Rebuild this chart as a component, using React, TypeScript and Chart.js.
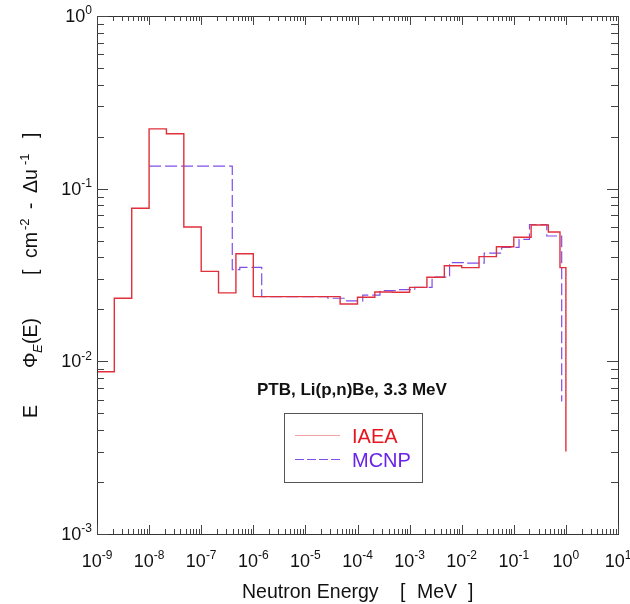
import React, { useEffect, useRef } from 'react';
import { Chart, registerables } from 'chart.js';

Chart.register(...registerables);

// ---- data (histogram left bin edges in MeV, and E*Phi values) ----
const iaeaEnergy = [
  1e-9, 2.15e-9, 4.64e-9, 1e-8, 2.15e-8, 4.64e-8, 1e-7, 2.15e-7, 4.64e-7, 1e-6,
  2.15e-6, 4.64e-6, 1e-5, 2.15e-5, 4.64e-5, 1e-4, 2.15e-4, 4.64e-4, 1e-3, 2.15e-3,
  4.64e-3, 1e-2, 2.15e-2, 4.64e-2, 0.1, 0.215, 0.46, 0.77, 1.0,
];
const iaeaFlux = [
  0.0087, 0.0232, 0.077, 0.222, 0.208, 0.06, 0.0332, 0.0249, 0.042, 0.0237,
  0.0237, 0.0237, 0.0237, 0.0237, 0.0215, 0.0235, 0.0252, 0.0251, 0.0268, 0.0307,
  0.0358, 0.0349, 0.0404, 0.0461, 0.0523, 0.0616, 0.0561, 0.0349, 0.003,
];
const mcnpEnergy = [
  1e-8, 3.95e-7, 5.5e-7, 1.45e-6, 2.7e-5, 5.85e-5, 1.26e-4, 2.7e-4, 5.85e-4, 1.26e-3,
  2.7e-3, 5.85e-3, 1.26e-2, 2.7e-2, 5.85e-2, 0.126, 0.2, 0.43, 0.83,
];
const mcnpFlux = [
  0.135, 0.034, 0.035, 0.0237, 0.0232, 0.0224, 0.0242, 0.0257, 0.026, 0.0268,
  0.0307, 0.0373, 0.037, 0.0423, 0.0457, 0.0509, 0.062, 0.0532, 0.00585,
];
const xTickExponents = [-9, -8, -7, -6, -5, -4, -3, -2, -1, 0, 1];
const yTickExponents = [-3, -2, -1, 0];
const seriesLabels = ['IAEA', 'MCNP'];
const annotationText = 'PTB, Li(p,n)Be, 3.3 MeV';

const RED = '#e0303c';
const PURPLE = '#7f4fe6';
const FONT = '"Liberation Sans", Arial, sans-serif';

type Seg = { t: string; mode?: 'sup' | 'sub'; italic?: boolean; off?: number };

function segFont(s: Seg, size: number) {
  const small = Math.round(size * 0.65);
  return `${s.italic ? 'italic ' : ''}${s.mode ? small : size}px ${FONT}`;
}
function segDy(s: Seg, size: number) {
  return s.mode === 'sup' ? -size * 0.42 : s.mode === 'sub' ? size * 0.28 : 0;
}

function drawRich(ctx: CanvasRenderingContext2D, segs: Seg[], size: number, x: number, y: number, align: 'left' | 'center' | 'right') {
  let total = 0;
  const widths = segs.map((s) => {
    ctx.font = segFont(s, size);
    const w = ctx.measureText(s.t).width;
    total += w;
    return w;
  });
  let cx = align === 'left' ? x : align === 'center' ? x - total / 2 : x - total;
  ctx.textAlign = 'left';
  ctx.textBaseline = 'alphabetic';
  segs.forEach((s, i) => {
    ctx.font = segFont(s, size);
    ctx.fillText(s.t, cx, y + segDy(s, size));
    cx += widths[i];
  });
}

// pieces placed at explicit offsets along the baseline
function drawPlaced(ctx: CanvasRenderingContext2D, segs: Seg[], size: number) {
  ctx.textAlign = 'left';
  ctx.textBaseline = 'alphabetic';
  segs.forEach((s) => {
    ctx.font = segFont(s, size);
    ctx.fillText(s.t, s.off || 0, segDy(s, size));
  });
}

const yTitleSegs: Seg[] = [
  { t: 'E', off: 0 },
  { t: 'Φ', off: 50 },
  { t: 'E', mode: 'sub', italic: true, off: 65 },
  { t: '(E)', off: 74 },
  { t: '[', off: 143 },
  { t: 'cm', off: 160 },
  { t: '-2', mode: 'sup', off: 188 },
  { t: '-', off: 209 },
  { t: 'Δu', off: 225 },
  { t: '-1', mode: 'sup', off: 253 },
  { t: ']', off: 280 },
];
const xTitleSegs: Seg[] = [
  { t: 'Neutron Energy', off: 0 },
  { t: '[', off: 158 },
  { t: 'MeV', off: 175 },
  { t: ']', off: 226 },
];

const framePlugin = {
  id: 'framePlugin',
  afterDatasetsDraw(chart: any) {
    const ctx: CanvasRenderingContext2D = chart.ctx;
    const { left, right, top, bottom } = chart.chartArea;
    const xs = chart.scales.x;
    const ys = chart.scales.y;
    ctx.save();
    // frame
    ctx.strokeStyle = '#333';
    ctx.lineWidth = 1;
    ctx.strokeRect(Math.round(left) + 0.5, Math.round(top) + 0.5, Math.round(right - left), Math.round(bottom - top));

    // x ticks (bottom & top, inward)
    ctx.strokeStyle = '#444';
    ctx.beginPath();
    for (let i = 0; i < xTickExponents.length; i++) {
      const e = xTickExponents[i];
      const major = Math.pow(10, e);
      const px = Math.round(xs.getPixelForValue(major)) + 0.5;
      ctx.moveTo(px, bottom); ctx.lineTo(px, bottom - 9);
      ctx.moveTo(px, top); ctx.lineTo(px, top + 9);
      if (i < xTickExponents.length - 1) {
        for (let m = 2; m <= 9; m++) {
          const p = Math.round(xs.getPixelForValue(m * major)) + 0.5;
          ctx.moveTo(p, bottom); ctx.lineTo(p, bottom - 5);
          ctx.moveTo(p, top); ctx.lineTo(p, top + 5);
        }
      }
    }
    // y ticks (left & right, inward)
    for (let i = 0; i < yTickExponents.length; i++) {
      const e = yTickExponents[i];
      const major = Math.pow(10, e);
      const py = Math.round(ys.getPixelForValue(major)) + 0.5;
      ctx.moveTo(left, py); ctx.lineTo(left + 11, py);
      ctx.moveTo(right, py); ctx.lineTo(right - 11, py);
      if (i < yTickExponents.length - 1) {
        for (let m = 2; m <= 9; m++) {
          const p = Math.round(ys.getPixelForValue(m * major)) + 0.5;
          ctx.moveTo(left, p); ctx.lineTo(left + 7, p);
          ctx.moveTo(right, p); ctx.lineTo(right - 7, p);
        }
      }
    }
    ctx.stroke();

    // tick labels
    ctx.fillStyle = '#111';
    xTickExponents.forEach((e) => {
      const px = xs.getPixelForValue(Math.pow(10, e));
      drawRich(ctx, [{ t: '10' }, { t: String(e), mode: 'sup' }], 18, px, bottom + 33, 'center');
    });
    yTickExponents.forEach((e) => {
      const py = ys.getPixelForValue(Math.pow(10, e));
      drawRich(ctx, [{ t: '10' }, { t: String(e), mode: 'sup' }], 18, left - 5, py + 6, 'right');
    });

    // axis titles
    ctx.save();
    ctx.translate(242, 598);
    drawPlaced(ctx, xTitleSegs, 19.5);
    ctx.restore();
    ctx.save();
    ctx.translate(37, 418);
    ctx.rotate(-Math.PI / 2);
    drawPlaced(ctx, yTitleSegs, 19.5);
    ctx.restore();

    // annotation
    ctx.font = `bold 17px ${FONT}`;
    ctx.textAlign = 'left';
    ctx.fillStyle = '#111';
    ctx.fillText(annotationText, 257, 395);

    // legend box
    ctx.strokeStyle = '#555';
    ctx.lineWidth = 1;
    ctx.strokeRect(284.5, 413.5, 138, 69);
    const ds = chart.data.datasets;
    const rows = [435, 459];
    rows.forEach((ry, i) => {
      const d = ds[i];
      ctx.save();
      ctx.strokeStyle = d.borderColor;
      ctx.lineWidth = 1;
      if (i === 0) ctx.globalAlpha = 0.45;
      ctx.setLineDash(i === 1 ? [9, 3] : []);
      ctx.beginPath();
      ctx.moveTo(295, ry + 0.5);
      ctx.lineTo(340, ry + 0.5);
      ctx.stroke();
      ctx.restore();
      ctx.font = `20px ${FONT}`;
      ctx.fillStyle = i === 0 ? '#e8141e' : '#6a22ea';
      ctx.textBaseline = 'alphabetic';
      ctx.textAlign = 'left';
      ctx.fillText(d.label, 352, ry + 8);
    });
    ctx.restore();
  },
};

export default function App() {
  const ref = useRef<HTMLCanvasElement | null>(null);
  useEffect(() => {
    if (!ref.current) return;
    const chart = new Chart(ref.current, {
      type: 'line',
      data: {
        datasets: [
          {
            label: seriesLabels[0],
            data: iaeaEnergy.map((x, i) => ({ x, y: iaeaFlux[i] })),
            borderColor: RED,
            borderWidth: 1.4,
            pointRadius: 0,
            stepped: 'before',
            fill: false,
          },
          {
            label: seriesLabels[1],
            data: mcnpEnergy.map((x, i) => ({ x, y: mcnpFlux[i] })),
            borderColor: PURPLE,
            borderWidth: 1.2,
            borderDash: [12, 4],
            pointRadius: 0,
            stepped: 'before',
            fill: false,
          },
        ],
      },
      options: {
        animation: false,
        responsive: false,
        devicePixelRatio: 1,
        layout: { padding: { left: 97, right: 12, top: 16, bottom: 70 } },
        plugins: { legend: { display: false }, tooltip: { enabled: false }, title: { display: false } },
        scales: {
          x: { type: 'logarithmic', min: 1e-9, max: 10, display: false },
          y: { type: 'logarithmic', min: 1e-3, max: 1, display: false },
        },
      },
      plugins: [framePlugin],
    });
    return () => chart.destroy();
  }, []);
  return (
    <div style={{ position: 'absolute', left: 0, top: 0, width: 630, height: 604, background: '#fff' }}>
      <canvas ref={ref} width={630} height={604} style={{ width: 630, height: 604, display: 'block' }} />
    </div>
  );
}
